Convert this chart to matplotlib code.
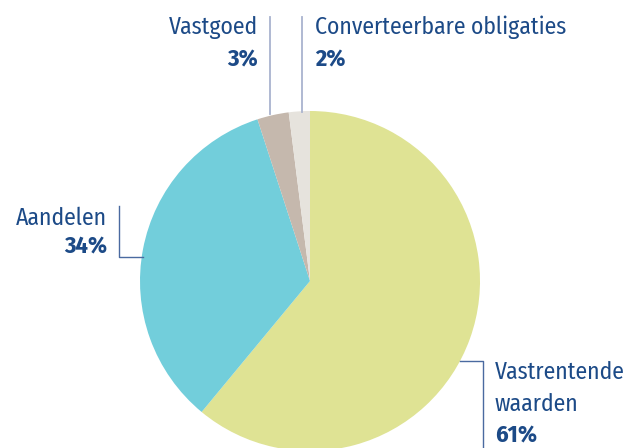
import matplotlib
matplotlib.use("Agg")
import matplotlib.pyplot as plt

categories = ["Vastrentende\nwaarden", "Aandelen", "Vastgoed", "Converteerbare obligaties"]
values = [61, 34, 3, 2]
pct_labels = ["61%", "34%", "3%", "2%"]
colors = ["#dfe394", "#72cedb", "#c5b8ad", "#e6e3dd"]

fam = ["Fira Sans Condensed", "DejaVu Sans"]

W, H = 637, 448
fig = plt.figure(figsize=(W / 100, H / 100), dpi=100)
ax = fig.add_axes([0, 0, 1, 1])

cx, cy, r = 310, 281, 170
# with the y-axis inverted, counterclock=True appears clockwise on screen
ax.pie(values, colors=colors, startangle=-90, counterclock=True,
       center=(cx, cy), radius=r, frame=True,
       wedgeprops=dict(linewidth=0))
ax.set_xlim(0, W)
ax.set_ylim(H, 0)
ax.set_aspect("equal")
ax.axis("off")

txt = "#1c4a87"
light = "#a9b3cf"
dark = "#4a6aa0"
fs = 17
fsb = 17.5

# Vastgoed
ax.plot([270, 270], [17, 114], color=light, lw=1.3)
ax.text(258, 27, categories[2], ha="right", va="center", color=txt, fontsize=fs, family=fam)
ax.text(258, 60, pct_labels[2], ha="right", va="center", color=txt, fontsize=fsb, family=fam, weight="bold")

# Converteerbare obligaties
ax.plot([302, 302], [17, 112], color=light, lw=1.3)
ax.text(315, 27, categories[3], ha="left", va="center", color=txt, fontsize=fs, family=fam)
ax.text(315, 60, pct_labels[3], ha="left", va="center", color=txt, fontsize=fsb, family=fam, weight="bold")

# Aandelen
ax.plot([119, 119, 143], [206, 257, 257], color=dark, lw=1.0)
ax.text(107, 218, categories[1], ha="right", va="center", color=txt, fontsize=fs, family=fam)
ax.text(107, 247, pct_labels[1], ha="right", va="center", color=txt, fontsize=fsb, family=fam, weight="bold")

# Vastrentende waarden
ax.plot([460, 483, 483], [361, 361, 448], color=dark, lw=1.0)
l1, l2 = categories[0].split("\n")
ax.text(495, 372, l1, ha="left", va="center", color=txt, fontsize=fs, family=fam)
ax.text(495, 404, l2, ha="left", va="center", color=txt, fontsize=fs, family=fam)
ax.text(495, 436, pct_labels[0], ha="left", va="center", color=txt, fontsize=fsb, family=fam, weight="bold")

fig.savefig("out.png", dpi=100)
